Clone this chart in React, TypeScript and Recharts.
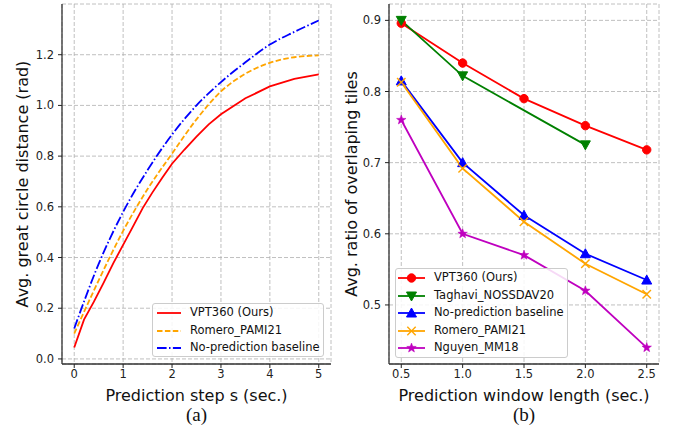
import React from "react";
import {
  LineChart,
  Line,
  XAxis,
  YAxis,
  CartesianGrid,
  Legend,
  Label,
} from "recharts";

// ---------- Data: panel (a) ----------
const vptSteps = [0, 0.2, 0.4, 0.6, 0.8, 1.0, 1.2, 1.4, 1.6, 1.8, 2.0, 2.25, 2.5, 2.75, 3.0, 3.5, 4.0, 4.5, 5.0];
const vptDistance = [0.045, 0.155, 0.225, 0.3, 0.378, 0.45, 0.522, 0.595, 0.657, 0.715, 0.77, 0.825, 0.877, 0.925, 0.965, 1.028, 1.075, 1.105, 1.122];
const smoothSteps = [0, 0.5, 1.0, 1.5, 2.0, 2.5, 3.0, 3.5, 4.0, 4.5, 5.0];
const romeroDistance = [0.1, 0.31, 0.505, 0.67, 0.81, 0.945, 1.055, 1.125, 1.168, 1.19, 1.197];
const noPredDistance = [0.12, 0.375, 0.58, 0.745, 0.885, 1.0, 1.092, 1.17, 1.24, 1.29, 1.335];
const stepTicks = [0, 1, 2, 3, 4, 5];
const distanceTicks = [0, 0.2, 0.4, 0.6, 0.8, 1.0, 1.2];

// ---------- Data: panel (b) ----------
const windowLengths = [0.5, 1.0, 1.5, 2.0, 2.5];
const vptRatio = [0.896, 0.84, 0.79, 0.752, 0.718];
const taghaviRatio: (number | null)[] = [0.9, 0.822, null, 0.725, null];
const noPredRatio = [0.815, 0.7, 0.626, 0.572, 0.535];
const romeroRatio = [0.813, 0.692, 0.617, 0.558, 0.515];
const nguyenRatio = [0.76, 0.6, 0.57, 0.52, 0.44];
const ratioTicks = [0.5, 0.6, 0.7, 0.8, 0.9];

const toPoints = (xs: number[], ys: number[]) => xs.map((x, i) => ({ x, y: ys[i] }));
const vptData = toPoints(vptSteps, vptDistance);
const romeroData = toPoints(smoothSteps, romeroDistance);
const noPredData = toPoints(smoothSteps, noPredDistance);

const ratioTable = windowLengths.map((x, i) => ({
  x,
  vpt: vptRatio[i],
  taghavi: taghaviRatio[i],
  nopred: noPredRatio[i],
  romero: romeroRatio[i],
  nguyen: nguyenRatio[i],
}));

const FONT = "'DejaVu Sans', sans-serif";
const SPINE = "#333";
const GRID = "#b0b0b0";

type Shape = "circle" | "tridown" | "triup" | "x" | "star";

function Marker({ shape, cx, cy, color }: { shape: Shape; cx: number; cy: number; color: string }) {
  if (shape === "circle") return <circle cx={cx} cy={cy} r={4.2} fill={color} stroke={color} />;
  if (shape === "tridown") {
    const s = 5;
    return <polygon points={`${cx - s},${cy - s * 0.8} ${cx + s},${cy - s * 0.8} ${cx},${cy + s}`} fill={color} stroke={color} />;
  }
  if (shape === "triup") {
    const s = 5;
    return <polygon points={`${cx - s},${cy + s * 0.8} ${cx + s},${cy + s * 0.8} ${cx},${cy - s}`} fill={color} stroke={color} />;
  }
  if (shape === "x") {
    const s = 4.2;
    return (
      <g stroke={color} strokeWidth={1.4}>
        <line x1={cx - s} y1={cy - s} x2={cx + s} y2={cy + s} />
        <line x1={cx - s} y1={cy + s} x2={cx + s} y2={cy - s} />
      </g>
    );
  }
  const pts: string[] = [];
  for (let k = 0; k < 10; k++) {
    const r = k % 2 === 0 ? 5 : 2.1;
    const a = -Math.PI / 2 + (k * Math.PI) / 5;
    pts.push(`${cx + r * Math.cos(a)},${cy + r * Math.sin(a)}`);
  }
  return <polygon points={pts.join(" ")} fill={color} stroke={color} strokeWidth={0.5} />;
}

const makeDot = (shape: Shape, color: string) => (props: any) => {
  const { cx, cy, index, value } = props;
  if (cx == null || cy == null || value == null || Number.isNaN(cx) || Number.isNaN(cy)) return <g key={`d-${index}`} />;
  return (
    <g key={`d-${index}`}>
      <Marker shape={shape} cx={cx} cy={cy} color={color} />
    </g>
  );
};

const leftSeries = [
  { name: "VPT360 (Ours)", color: "#ff0000", dash: undefined as string | undefined },
  { name: "Romero_PAMI21", color: "#ffa500", dash: "5.5 2.4" },
  { name: "No-prediction baseline", color: "#0000ff", dash: "9.6 2.4 1.5 2.4" },
];

const rightSeries: { key: string; name: string; color: string; shape: Shape }[] = [
  { key: "vpt", name: "VPT360 (Ours)", color: "#ff0000", shape: "circle" },
  { key: "taghavi", name: "Taghavi_NOSSDAV20", color: "#008000", shape: "tridown" },
  { key: "nopred", name: "No-prediction baseline", color: "#0000ff", shape: "triup" },
  { key: "romero", name: "Romero_PAMI21", color: "#ffa500", shape: "x" },
  { key: "nguyen", name: "Nguyen_MM18", color: "#bf00bf", shape: "star" },
];

const legendBox: React.CSSProperties = {
  border: "1px solid #cccccc",
  borderRadius: 3,
  background: "rgba(255,255,255,0.85)",
  boxSizing: "border-box",
  fontFamily: FONT,
  fontSize: 11.5,
  color: "#111",
  paddingTop: 0,
};

function LeftLegend() {
  return (
    <div style={{ ...legendBox, width: 172, height: 54 }}>
      {leftSeries.map((s) => (
        <div key={s.name} style={{ height: 17.5, display: "flex", alignItems: "center", position: "relative" }}>
          <svg width={37} height={17.5} style={{ flex: "none" }}>
            <line x1={4} x2={28} y1={9} y2={9} stroke={s.color} strokeWidth={1.8} strokeDasharray={s.dash} />
          </svg>
          <span style={{ whiteSpace: "nowrap", lineHeight: "17.5px" }}>{s.name}</span>
        </div>
      ))}
    </div>
  );
}

function RightLegend() {
  return (
    <div style={{ ...legendBox, width: 173, height: 90 }}>
      {rightSeries.map((s) => (
        <div key={s.key} style={{ height: 17.5, display: "flex", alignItems: "center" }}>
          <svg width={38} height={17.5} style={{ flex: "none" }}>
            <line x1={2} x2={29} y1={9} y2={9} stroke={s.color} strokeWidth={1.8} />
            <Marker shape={s.shape} cx={15.5} cy={9} color={s.color} />
          </svg>
          <span style={{ whiteSpace: "nowrap", lineHeight: "17.5px" }}>{s.name}</span>
        </div>
      ))}
    </div>
  );
}

const tickStyle = { fontFamily: FONT, fontSize: 11.5, fill: "#222" };

const yLabel = (text: string, x: number) => (props: any) => {
  const vb = props.viewBox || {};
  const cy = vb.y + vb.height / 2;
  return (
    <text
      x={x}
      y={cy}
      transform={`rotate(-90, ${x}, ${cy})`}
      textAnchor="middle"
      dominantBaseline="central"
      style={{ fontFamily: FONT, fontSize: 16, fill: "#111" }}
    >
      {text}
    </text>
  );
};

const xLabel = (text: string, y: number, serif = false) => (props: any) => {
  const vb = props.viewBox || {};
  const cx = vb.x + vb.width / 2;
  return (
    <text
      x={cx}
      y={y}
      textAnchor="middle"
      dominantBaseline="central"
      style={{
        fontFamily: serif ? "'Liberation Serif', 'Times New Roman', serif" : FONT,
        fontSize: serif ? 19 : 16,
        fill: "#111",
      }}
    >
      {text}
    </text>
  );
};

function LeftChart() {
  return (
    <LineChart width={340} height={426} margin={{ top: 4, right: 9, bottom: 32, left: 22 }}>
      <CartesianGrid stroke={GRID} strokeDasharray="4 2" strokeWidth={0.8} />
      <XAxis
        dataKey="x"
        type="number"
        domain={[-0.25, 5.25]}
        ticks={stepTicks}
        allowDataOverflow
        height={30}
        tick={tickStyle}
        tickSize={4}
        tickMargin={2}
        stroke={SPINE}
        tickLine={{ stroke: "#222" }}
        axisLine={{ stroke: SPINE, strokeWidth: 1.3 }}
      >
        <Label content={xLabel("Prediction step s (sec.)", 395)} />
        <Label content={xLabel("(a)", 414, true)} />
      </XAxis>
      <XAxis xAxisId="top" orientation="top" type="number" domain={[-0.25, 5.25]} height={0} tick={false} tickLine={false} axisLine={{ stroke: SPINE, strokeWidth: 1.3 }} />
      <YAxis
        type="number"
        domain={[-0.02, 1.4]}
        ticks={distanceTicks}
        allowDataOverflow
        width={40}
        tick={tickStyle}
        tickSize={4}
        tickMargin={4}
        tickFormatter={(v: number) => v.toFixed(1)}
        tickLine={{ stroke: "#222" }}
        axisLine={{ stroke: SPINE, strokeWidth: 1.3 }}
      >
        <Label content={yLabel("Avg. great circle distance (rad)", 22)} />
      </YAxis>
      <YAxis yAxisId="right" orientation="right" type="number" domain={[-0.02, 1.4]} width={0} tick={false} tickLine={false} axisLine={{ stroke: SPINE, strokeWidth: 1.3 }} />
      <Line data={vptData} dataKey="y" name={leftSeries[0].name} type="linear" stroke={leftSeries[0].color} strokeWidth={1.8} dot={false} isAnimationActive={false} />
      <Line data={romeroData} dataKey="y" name={leftSeries[1].name} type="monotone" stroke={leftSeries[1].color} strokeWidth={1.8} strokeDasharray={leftSeries[1].dash} dot={false} isAnimationActive={false} />
      <Line data={noPredData} dataKey="y" name={leftSeries[2].name} type="monotone" stroke={leftSeries[2].color} strokeWidth={1.8} strokeDasharray={leftSeries[2].dash} dot={false} isAnimationActive={false} />
      <Legend
        layout="horizontal"
        verticalAlign="middle"
        align="center"
        content={() => <LeftLegend />}
        wrapperStyle={{ left: 152, top: 303, width: 172, height: 54, bottom: "auto", right: "auto" }}
      />
    </LineChart>
  );
}

function RightChart() {
  return (
    <LineChart width={335} height={426} data={ratioTable} margin={{ top: 4, right: 16, bottom: 32, left: 9 }}>
      <CartesianGrid stroke={GRID} strokeDasharray="4 2" strokeWidth={0.8} />
      <XAxis
        dataKey="x"
        type="number"
        domain={[0.4, 2.6]}
        ticks={windowLengths}
        allowDataOverflow
        height={30}
        tick={tickStyle}
        tickSize={4}
        tickMargin={2}
        tickFormatter={(v: number) => v.toFixed(1)}
        tickLine={{ stroke: "#222" }}
        axisLine={{ stroke: SPINE, strokeWidth: 1.3 }}
      >
        <Label content={xLabel("Prediction window length (sec.)", 395)} />
        <Label content={xLabel("(b)", 414, true)} />
      </XAxis>
      <XAxis xAxisId="top" orientation="top" type="number" domain={[0.4, 2.6]} height={0} tick={false} tickLine={false} axisLine={{ stroke: SPINE, strokeWidth: 1.3 }} />
      <YAxis
        type="number"
        domain={[0.417, 0.923]}
        ticks={ratioTicks}
        allowDataOverflow
        width={40}
        tick={tickStyle}
        tickSize={4}
        tickMargin={4}
        tickFormatter={(v: number) => v.toFixed(1)}
        tickLine={{ stroke: "#222" }}
        axisLine={{ stroke: SPINE, strokeWidth: 1.3 }}
      >
        <Label content={yLabel("Avg. ratio of overlaping tiles", 11)} />
      </YAxis>
      <YAxis yAxisId="right" orientation="right" type="number" domain={[0.417, 0.923]} width={0} tick={false} tickLine={false} axisLine={{ stroke: SPINE, strokeWidth: 1.3 }} />
      {rightSeries.map((s) => (
        <Line
          key={s.key}
          dataKey={s.key}
          name={s.name}
          type="linear"
          stroke={s.color}
          strokeWidth={1.8}
          connectNulls
          dot={makeDot(s.shape, s.color)}
          activeDot={false}
          isAnimationActive={false}
        />
      ))}
      <Legend
        layout="horizontal"
        verticalAlign="middle"
        align="center"
        content={() => <RightLegend />}
        wrapperStyle={{ left: 55, top: 268, width: 173, height: 90, bottom: "auto", right: "auto" }}
      />
    </LineChart>
  );
}

export default function App() {
  return (
    <div style={{ position: "absolute", left: 0, top: 0, width: 675, height: 426, background: "#fff", display: "flex" }}>
      <LeftChart />
      <RightChart />
    </div>
  );
}
